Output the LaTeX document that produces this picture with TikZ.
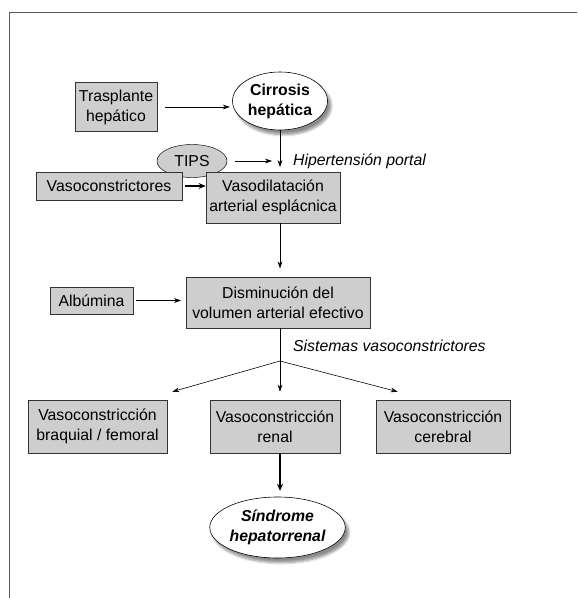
\documentclass[tikz,border=0pt]{standalone}
\usepackage{fontspec}
\setmainfont{Liberation Sans}
\usepackage{tikz}
\usetikzlibrary{shapes.geometric, arrows.meta, calc, positioning, shadows.blur}
\definecolor{boxgray}{RGB}{206,206,206}
\definecolor{framegray}{RGB}{90,90,90}

\begin{document}
\begin{tikzpicture}[x=0.03cm, y=-0.03cm]

% TikZ styles
\tikzset{
  box/.style={rectangle, draw=black!80, fill=boxgray, line width=0.5pt, inner sep=2pt, align=center,
    font=\fontsize{13.5}{17}\selectfont},
  oval/.style={ellipse, draw=black, fill=white, line width=0.5pt, inner sep=0pt, align=center,
    font=\fontsize{13.5}{17}\selectfont\bfseries,
    blur shadow={shadow xshift=3pt, shadow yshift=-4pt, shadow blur steps=6, shadow opacity=45}},
  tag/.style={anchor=west, font=\fontsize{13.5}{17}\selectfont\itshape},
  arrow/.style={-{Stealth[length=6pt, width=4pt]}, line width=0.5pt},
  thickarrow/.style={-{Stealth[length=6pt, width=5pt]}, line width=1.4pt}
}

\useasboundingbox (0,0) rectangle (577,598);
% Rahmen
\draw[framegray, line width=0.6pt] (577,12) -- (9,12) -- (9,598);

% Knoten
\node[box, minimum width=2.46cm, minimum height=1.47cm] (trasplante) at (116,107) {Trasplante\\hepático};
\node[oval, minimum width=2.85cm, minimum height=1.74cm] (cirrosis) at (280,101) {Cirrosis\\hepática};
\node[ellipse, draw=black, fill=boxgray, minimum width=2.1cm, minimum height=0.99cm, inner sep=0pt,
  font=\fontsize{13.5}{17}\selectfont] (tips) at (192,161) {TIPS};
\node[tag] (portal) at (289,161) {Hipertensión portal};

\node[box, minimum width=4.38cm, minimum height=0.84cm] (vasocons) at (109,186) {Vasoconstrictores};
\node[box, minimum width=4.02cm, minimum height=1.53cm] (vasodil) at (273,197.5) {Vasodilatación\\arterial esplácnica};

\node[box, minimum width=2.49cm, minimum height=0.81cm] (albumina) at (91.5,300.5) {Albúmina};
\node[box, minimum width=5.52cm, minimum height=1.53cm] (disminucion) at (278,302.5) {Disminución del\\volumen arterial efectivo};
\node[tag] (sistemas) at (289,346) {Sistemas vasoconstrictores};
\coordinate (branch) at (280,361);

\node[box, minimum width=4.17cm, minimum height=1.59cm] (braquial) at (97.5,426.5) {Vasoconstricción\\braquial / femoral};
\node[box, minimum width=3.9cm, minimum height=1.59cm] (renal) at (275,426.5) {Vasoconstricción\\renal};
\node[box, minimum width=4.02cm, minimum height=1.59cm] (cerebral) at (443,426.5) {Vasoconstricción\\cerebral};

\node[oval, minimum width=3.57cm, minimum height=1.83cm, font=\fontsize{13.5}{17}\selectfont\bfseries\itshape]
  (sindrome) at (277.5,527.5) {Síndrome\\hepatorrenal};

% Pfeile
\draw[arrow, shorten <=7pt, shorten >=2pt] (trasplante.east) -- (trasplante.east -| cirrosis.west);
\draw[arrow, shorten <=7pt] (tips.east) -- ($(tips.east -| branch) + (-8,0)$);
\draw[arrow, shorten >=4pt] (cirrosis.south -| branch) -- (vasodil.north -| branch);
\draw[thickarrow, shorten <=2pt] (vasocons.east) -- (vasocons.east -| vasodil.west);
\draw[arrow, shorten >=7pt] (vasodil.south -| branch) -- (disminucion.north -| branch);
\draw[arrow, shorten <=2pt, shorten >=4pt] (albumina.east) -- (albumina.east -| disminucion.west);

\draw[line width=0.5pt] (disminucion.south -| branch) -- (branch);
\draw[arrow] (branch) -- ($(braquial.north east) + (5,-8)$);
\draw[arrow] (branch) -- ($(branch |- renal.north) + (0,-8)$);
\draw[arrow] (branch) -- ($(cerebral.north west) + (22,-8)$);

\draw[thickarrow, line width=1.1pt, shorten >=5pt] (renal.south -| branch) -- (sindrome.north -| branch);

\end{tikzpicture}
\end{document}
